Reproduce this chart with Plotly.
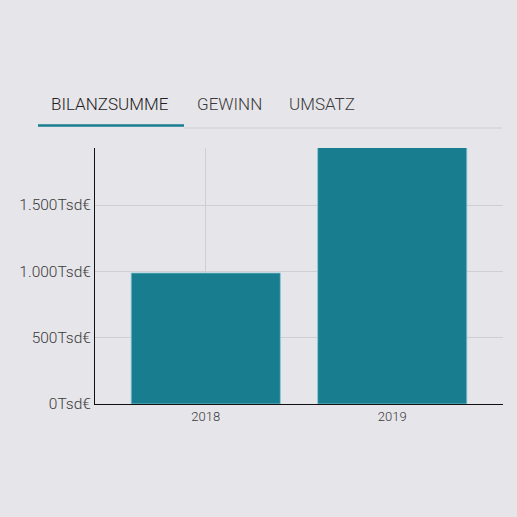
import plotly.graph_objects as go

BG = "#e6e5ea"
TEAL = "#187e8f"

years = ["2018", "2019"]
bilanzsumme = [988, 1935]
tabs = ["BILANZSUMME", "GEWINN", "UMSATZ"]
y_ticks = [0, 500, 1000, 1500]
y_labels = ["0Tsd€", "500Tsd€", "1.000Tsd€", "1.500Tsd€"]

# plot area in pixels, used to place the tab header in paper coords
L, R, T, B = 95, 503, 148, 404


def px_x(x):
    return (x - L) / (R - L)


def px_y(y):
    return (B - y) / (B - T)


fig = go.Figure()
fig.add_trace(go.Bar(
    x=years,
    y=bilanzsumme,
    width=0.8,
    marker=dict(color=TEAL, line=dict(color="rgba(140,200,215,0.8)", width=1)),
    hoverinfo="x+y",
))

fig.update_layout(
    width=517,
    height=517,
    paper_bgcolor=BG,
    plot_bgcolor=BG,
    font=dict(family="Roboto", color="#3a3a3a", size=13, weight=300),
    margin=dict(l=L, r=517 - R, t=T, b=517 - B),
    showlegend=False,
    xaxis=dict(
        range=[-0.594, 1.594],
        showline=True, linecolor="#111111", linewidth=1,
        showgrid=True, gridcolor="#cfced3", gridwidth=1,
        tickfont=dict(size=13),
        ticks="", fixedrange=True,
    ),
    yaxis=dict(
        range=[0, 1930],
        tickvals=y_ticks, ticktext=y_labels,
        showline=True, linecolor="#111111", linewidth=1,
        showgrid=True, gridcolor="#cfced3", gridwidth=1,
        zeroline=False, ticks="", ticklen=0,
        tickfont=dict(size=15.5),
        fixedrange=True,
    ),
)

# tab header above the chart
tab_x = [49, 195, 287]
tab_colors = ["#222222", "#3a3a3a", "#3a3a3a"]
for label, x, c in zip(tabs, tab_x, tab_colors):
    fig.add_annotation(
        text=label, x=px_x(x), y=px_y(104), xref="paper", yref="paper",
        xanchor="left", yanchor="middle", showarrow=False,
        font=dict(size=17, color=c, family="Roboto", weight=300),
    )
fig.add_shape(type="line", xref="paper", yref="paper",
              x0=px_x(184), x1=px_x(502), y0=px_y(128), y1=px_y(128),
              line=dict(color="#cfced3", width=1))
fig.add_shape(type="line", xref="paper", yref="paper",
              x0=px_x(38), x1=px_x(184), y0=px_y(125.5), y1=px_y(125.5),
              line=dict(color=TEAL, width=2.5))

fig.write_html("out.html", config={"displayModeBar": False},
               post_script="document.body.style.margin='0';")
